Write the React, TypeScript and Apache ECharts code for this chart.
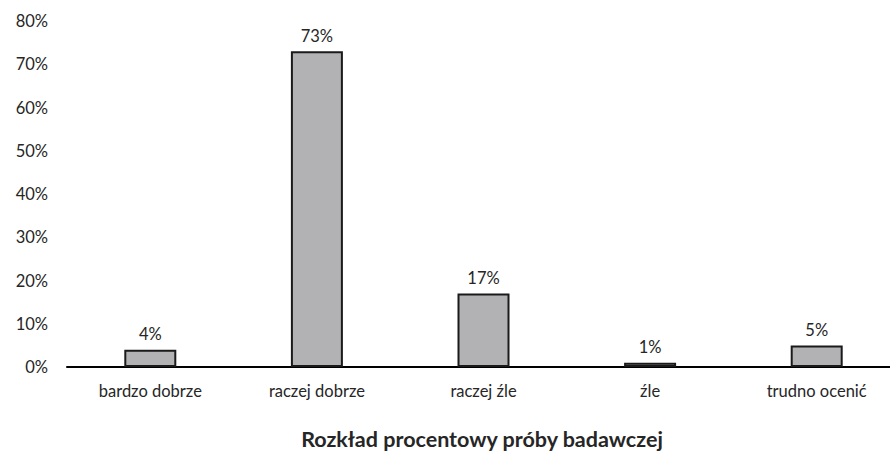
import React, { useEffect, useRef } from "react";
import * as echarts from "echarts";

const categories = ["bardzo dobrze", "raczej dobrze", "raczej źle", "źle", "trudno ocenić"];
const values = [4, 73, 17, 1, 5];
const yTicks = [0, 10, 20, 30, 40, 50, 60, 70, 80];

const FONT = "Lato, 'Open Sans', sans-serif";
const TEXT = "#262626";

export default function App() {
  const ref = useRef<HTMLDivElement>(null);

  useEffect(() => {
    if (!ref.current) return;
    const chart = echarts.init(ref.current, undefined, { renderer: "svg" });
    chart.setOption({
      animation: false,
      title: {
        text: "Rozkład procentowy próby badawczej",
        left: 477,
        textAlign: "center",
        top: 423,
        textStyle: { fontFamily: FONT, fontSize: 21.5, fontWeight: "bold", color: TEXT },
      },
      // the plot area runs a little past the visible right edge
      grid: { left: 67, right: 0, top: 21, bottom: 84 },
      xAxis: {
        type: "category",
        data: categories,
        axisLine: { lineStyle: { color: "#000", width: 2 } },
        axisTick: { show: false },
        axisLabel: { fontFamily: FONT, fontSize: 16.5, color: TEXT, margin: 15 },
      },
      yAxis: {
        type: "value",
        min: yTicks[0],
        max: yTicks[yTicks.length - 1],
        interval: 10,
        splitLine: { show: false },
        axisLine: { show: false },
        axisTick: { show: false },
        axisLabel: {
          fontFamily: FONT,
          fontSize: 16.5,
          color: TEXT,
          margin: 19,
          formatter: (v: number) => `${v}%`,
        },
      },
      series: [
        {
          type: "bar",
          data: values,
          barWidth: 52,
          itemStyle: { color: "#B2B2B5", borderColor: "#1a1a1a", borderWidth: 2 },
          label: {
            show: true,
            position: "top",
            distance: 7,
            fontFamily: FONT,
            fontSize: 16.5,
            color: TEXT,
            formatter: (p: any) => `${p.value}%`,
          },
        },
      ],
    });
    return () => chart.dispose();
  }, []);

  return (
    <div
      style={{
        position: "absolute",
        left: 0,
        top: 0,
        width: 890,
        height: 451,
        overflow: "hidden",
      }}
    >
      <div ref={ref} style={{ width: 900, height: 451 }} />
    </div>
  );
}
